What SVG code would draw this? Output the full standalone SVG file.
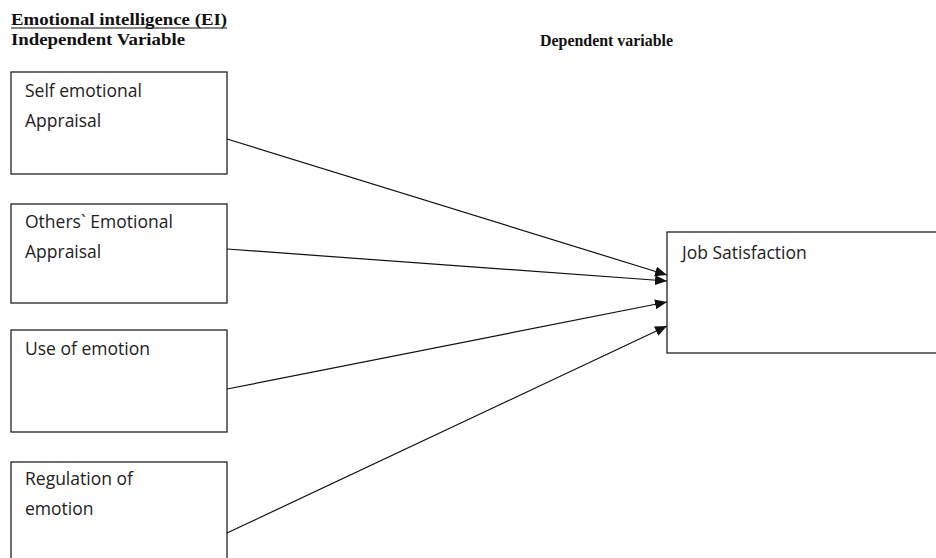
<svg xmlns="http://www.w3.org/2000/svg" width="936" height="558" viewBox="0 0 936 558">
<style>
.hdr{font-family:"Liberation Serif","Times New Roman",serif;font-weight:bold;font-size:16px;fill:#111}
.box{fill:#fff;stroke:#222;stroke-width:1.3}
.lbl{font-family:"Open Sans","Noto Sans",sans-serif;font-size:17.5px;fill:#222}
.con{stroke:#111;stroke-width:1.2;fill:none;marker-end:url(#ah)}
</style>
<defs>
<marker id="ah" viewBox="0 0 12 10" refX="12" refY="5" markerWidth="12" markerHeight="10" markerUnits="userSpaceOnUse" orient="auto">
<path d="M0,0 L12,5 L0,10 z" fill="#111"/>
</marker>
</defs>
<rect width="936" height="558" fill="#fff"/>
<g id="headers">
<text class="hdr" x="11" y="25" textLength="216" lengthAdjust="spacingAndGlyphs">Emotional intelligence (EI)</text>
<line x1="11" y1="28" x2="227" y2="28" stroke="#111" stroke-width="1"/>
<text class="hdr" x="11" y="45" textLength="174" lengthAdjust="spacingAndGlyphs">Independent Variable</text>
<text class="hdr" x="540" y="46" textLength="133" lengthAdjust="spacingAndGlyphs">Dependent variable</text>
</g>
<g id="node-self">
<rect class="box" x="11" y="72" width="216" height="102"/>
<text class="lbl" x="25" y="97">Self emotional</text>
<text class="lbl" x="25" y="127">Appraisal</text>
</g>
<g id="node-others">
<rect class="box" x="11" y="204" width="216" height="99"/>
<text class="lbl" x="25" y="228">Others` Emotional</text>
<text class="lbl" x="25" y="258">Appraisal</text>
</g>
<g id="node-use">
<rect class="box" x="11" y="330" width="216" height="102"/>
<text class="lbl" x="25" y="355">Use of emotion</text>
</g>
<g id="node-regulation">
<rect class="box" x="11" y="462" width="216" height="110"/>
<text class="lbl" x="25" y="485">Regulation of</text>
<text class="lbl" x="25" y="515">emotion</text>
</g>
<g id="node-job">
<rect class="box" x="667" y="232" width="270" height="121"/>
<text class="lbl" x="682" y="259">Job Satisfaction</text>
</g>
<g id="connectors">
<line class="con" x1="227" y1="139" x2="667" y2="275"/>
<line class="con" x1="227" y1="249" x2="667" y2="281"/>
<line class="con" x1="227" y1="389" x2="667" y2="302"/>
<line class="con" x1="227" y1="533" x2="667" y2="326"/>
</g>
</svg>
